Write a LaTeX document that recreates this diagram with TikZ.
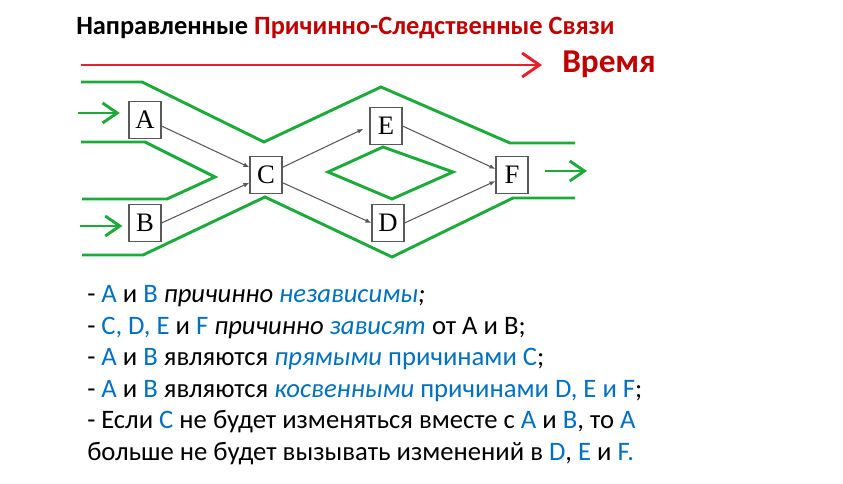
\documentclass[tikz,border=0pt]{standalone}
\usepackage{fontspec}
\setmainfont{Carlito}
\newfontfamily\boxfont{Liberation Serif}
\usetikzlibrary{arrows.meta}

\definecolor{flowgreen}{RGB}{28,170,58}
\definecolor{timered}{RGB}{232,30,40}
\definecolor{titlered}{RGB}{192,0,0}
\definecolor{hlblue}{RGB}{0,112,192}
\newcommand{\hl}[1]{\textcolor{hlblue}{#1}}

\begin{document}
\begin{tikzpicture}[x=0.75pt, y=-0.75pt,
  event/.style={draw=black!65, fill=white, line width=0.8pt, minimum width=24pt,
    minimum height=27.5pt, inner sep=0pt, font=\boxfont\fontsize{20}{20}\selectfont},
  causal/.style={-{Latex[length=4.5pt,width=3.5pt]}, draw=black!65, line width=0.8pt},
  flow/.style={flowgreen, line width=2.2pt},
  inarrow/.style={flow, -{Straight Barb[length=11pt,width=15pt]}},
  timearrow/.style={timered, line width=2.2pt, -{Straight Barb[length=13pt,width=18pt]}},
  textline/.style={anchor=base west, inner sep=0pt, font=\fontsize{20}{24}\selectfont}]
  % canvas 843 x 484 px
  \useasboundingbox (0,0) rectangle (843,484);

  % Title and time axis
  \node[anchor=base west, inner sep=0pt, font=\bfseries\fontsize{19.8}{22}\selectfont] (title) at (76,35)
    {Направленные \textcolor{titlered}{Причинно-Следственные Связи}};
  \node[anchor=base west, inner sep=0pt, text=titlered, font=\bfseries\fontsize{25}{28}\selectfont] (time) at (562,73) {Время};
  \coordinate (t0) at (81,65);
  \coordinate (t1) at (542,65);
  \draw[timearrow] (t0) -- (t1);

  % Events
  \node[event] (A) at (145,120) {A};
  \node[event] (B) at (145,223) {B};
  \node[event] (C) at (266,175) {C};
  \node[event] (E) at (386,126) {E};
  \node[event] (D) at (388,223) {D};
  \node[event] (F) at (512,175) {F};

  % Green flow outline
  \draw[flow] (81,82) -- (142,82) -- (264,142) -- (381,87) -- (510,143) -- (575,143);
  \draw[flow] (81,142) -- (145,142) -- (215,177) -- (167,199) -- (82,199);
  \draw[flow] (82,255) -- (143,255) -- (265,197) -- (392,257) -- (513,198) -- (575,198);
  \draw[flow] (328,172) -- (383,147) -- (453,172) -- (392,199) -- cycle;

  % Inputs and output
  \coordinate (inA) at (78,113);
  \coordinate (inB) at (80,226);
  \coordinate (outF) at (545,171);
  \coordinate (endF) at (587,171);
  \draw[inarrow] (inA) -- ([xshift=-6.5pt]inA -| A.west);
  \draw[inarrow] (inB) -- ([xshift=-4.5pt]inB -| B.west);
  \draw[inarrow] (outF) -- (endF);

  % Causal links
  \draw[causal] (A.-20) -- (C.155);
  \draw[causal] (B.east) -- (C.205);
  \draw[causal, shorten >=5pt] (C.25) -- (E.west);
  \draw[causal] (C.-25) -- (D.west);
  \draw[causal] (E.east) -- (F.160);
  \draw[causal] (D.east) -- (F.200);

  % Statements
  \node[textline] (l1) at (87,303) {- \hl{A} и \hl{B} \textit{причинно \hl{независимы};}};
  \node[textline] (l2) at (87,334.5) {- \hl{C, D, E} и \hl{F} \textit{причинно \hl{зависят}} от A и B;};
  \node[textline] (l3) at (87,366) {- \hl{A} и \hl{B} являются \hl{\textit{прямыми} причинами C};};
  \node[textline] (l4) at (87,397.5) {- \hl{A} и \hl{B} являются \hl{\textit{косвенными} причинами D, E и F};};
  \node[textline] (l5) at (87,429) {- Если \hl{C} не будет изменяться вместе с \hl{A} и \hl{B}, то \hl{A}};
  \node[textline] (l6) at (87,460.5) {больше не будет вызывать изменений в \hl{D}, \hl{E} и \hl{F.}};
\end{tikzpicture}
\end{document}
